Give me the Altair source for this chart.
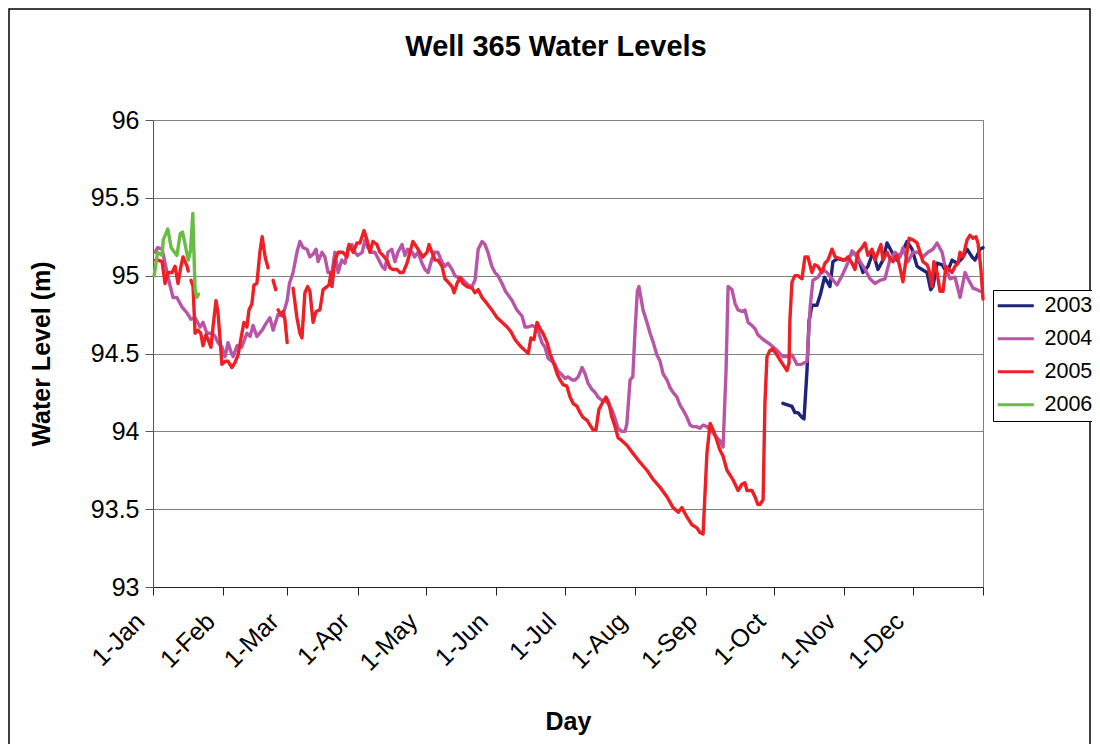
import altair as alt
import pandas as pd

FONT = "Liberation Sans"
chart_title = "Well 365 Water Levels"
x_title = "Day"
y_title = "Water Level (m)"
years = ["2003", "2004", "2005", "2006"]
year_colors = ["#1F2479", "#B955A7", "#EE2026", "#69BD45"]
month_starts = [0, 31, 59, 90, 120, 151, 181, 212, 243, 273, 304, 334, 365]
month_labels = ["1-Jan", "1-Feb", "1-Mar", "1-Apr", "1-May", "1-Jun", "1-Jul",
                "1-Aug", "1-Sep", "1-Oct", "1-Nov", "1-Dec", ""]
level_ticks = [93, 93.5, 94, 94.5, 95, 95.5, 96]

# [day of year, water level (m)]; None marks a gap in the record
levels_2003 = [
    [277, 94.18], [279, 94.17], [281, 94.16], [282.3, 94.12], [283.6, 94.12],
    [285.4, 94.09], [286.3, 94.08], [287.6, 94.39], [288.5, 94.71], [289.8, 94.81],
    [292, 94.81], [293.5, 94.88], [295.3, 94.99], [297.7, 94.93], [299, 95.09],
    [301.2, 95.11], [303.4, 95.10], [305.6, 95.11], [307.8, 95.15], [310, 95.12],
    [312.2, 95.02], [314.4, 95.06], [316.6, 95.15], [318.8, 95.04], [321, 95.10],
    [322.8, 95.21], [325, 95.15], [327.2, 95.10], [329.4, 95.15], [331.6, 95.22],
    [333.8, 95.17], [336, 95.06], [338.2, 95.04], [340.4, 95.02], [342, 94.91],
    [343, 94.93], [344.8, 95.08], [347, 95.07], [349.2, 95.02], [351.4, 95.10],
    [353.6, 95.08], [355.8, 95.11], [358, 95.17], [360.2, 95.12], [361.5, 95.10],
    [363.7, 95.17], [365, 95.18],
]

levels_2004 = [
    [1, 95.15], [2, 95.18], [4, 95.17], [5.3, 95.08], [6.6, 94.99], [8.8, 94.86],
    [10.5, 94.86], [12.7, 94.80], [15, 94.76], [16.7, 94.72], [18.5, 94.73],
    [20.7, 94.67], [22, 94.70], [23.7, 94.63], [26, 94.63], [27.3, 94.61],
    [28.6, 94.57], [30.3, 94.54], [31.7, 94.48], [33, 94.57], [34.3, 94.51],
    [35.2, 94.48], [37, 94.55], [39, 94.54], [41.3, 94.63], [42.7, 94.61],
    [44, 94.68], [45.7, 94.61], [48, 94.65], [50, 94.70], [51.4, 94.73],
    [52.8, 94.65], [55, 94.75], [57, 94.74], [59, 94.84], [60, 94.95],
    [61.6, 95.02], [63.3, 95.15], [64.6, 95.22], [66, 95.18], [67.7, 95.17],
    [69, 95.12], [70.5, 95.14], [71.7, 95.17], [72.6, 95.09], [74.3, 95.15],
    [75.6, 95.12], [77, 95.02], [78.7, 95.02], [80, 95.15], [81.4, 95.02],
    [83, 95.10], [84.4, 95.08], [85.8, 95.18], [87.5, 95.20], [88.8, 95.15],
    [90, 95.13], [92, 95.15], [93.2, 95.23], [94.5, 95.18], [96.3, 95.15],
    [97.6, 95.15], [99, 95.11], [100.7, 95.06], [102, 95.04], [103.3, 95.15],
    [105, 95.17], [106.4, 95.09], [107.7, 95.15], [109.5, 95.20], [110.8, 95.13],
    [112, 95.17], [114, 95.15], [115, 95.12], [116.5, 95.15], [118.3, 95.08],
    [119.6, 95.04], [121, 95.02], [122.7, 95.11], [124, 95.15], [125.3, 95.15],
    [127, 95.09], [128.4, 95.06], [129.7, 95.08], [131.5, 95.04], [132.8, 95.00],
    [134, 94.99], [136, 94.98], [137.2, 94.96], [138.5, 94.94], [140.3, 94.93],
    [141.6, 94.97], [143, 95.17], [144.7, 95.22], [146, 95.20], [147.3, 95.15],
    [149, 95.06], [150.4, 95.02], [151.7, 95.00], [153.5, 94.95], [155, 94.90],
    [157.9, 94.84], [160, 94.78], [162.3, 94.74], [163.6, 94.67], [165, 94.67],
    [166.7, 94.68], [168, 94.67], [169.3, 94.65], [171, 94.57], [172.4, 94.54],
    [173.7, 94.47], [175.5, 94.45], [176.8, 94.43], [178, 94.39], [180, 94.36],
    [181.2, 94.34], [182.5, 94.35], [184.3, 94.33], [185.6, 94.33], [187, 94.35],
    [188.7, 94.41], [190, 94.37], [191.3, 94.31], [193, 94.27], [194.4, 94.25],
    [195.7, 94.22], [197.4, 94.20], [198.8, 94.20], [200, 94.18], [201.8, 94.14],
    [203, 94.09], [204.5, 94.02], [206.2, 94.00], [207.6, 94.00], [208.4, 94.05],
    [209.8, 94.33], [211, 94.35], [212, 94.65], [213, 94.90], [213.7, 94.93],
    [215.5, 94.78], [217.2, 94.70], [218.6, 94.63], [220, 94.57], [221.6, 94.49],
    [223, 94.45], [224.3, 94.37], [226, 94.33], [227.4, 94.28], [228.7, 94.25],
    [230.4, 94.22], [231.7, 94.17], [233, 94.14], [234.8, 94.09], [236.2, 94.04],
    [237.5, 94.03], [239, 94.03], [240.5, 94.02], [241.9, 94.04], [243.6, 94.03],
    [245, 94.01], [246.3, 93.99], [248, 93.96], [249.3, 93.94], [250.7, 93.90],
    [252, 94.39], [252.9, 94.93], [254.6, 94.91], [256, 94.82], [257.3, 94.78],
    [259, 94.77], [260.3, 94.78], [261.7, 94.70], [263.4, 94.68], [264.7, 94.66],
    [266, 94.62], [268.3, 94.59], [271.3, 94.56], [274.4, 94.52], [277, 94.48],
    [278.8, 94.48], [281, 94.49], [283.2, 94.43], [285, 94.43], [287.6, 94.45],
    [289, 94.80], [290.2, 94.97], [292.4, 94.99], [294.6, 95.04], [296.4, 95.02],
    [298.6, 94.98], [300.8, 94.94], [303, 95.00], [305.2, 95.07], [307.4, 95.16],
    [309.6, 95.12], [311, 95.09], [313.1, 95.04], [315.3, 94.98], [317.5, 94.95],
    [319.7, 94.97], [321.9, 94.98], [324, 95.10], [326.3, 95.15], [328.5, 95.12],
    [329.8, 95.18], [332, 95.09], [334.2, 95.15], [336.4, 95.15], [338.6, 95.12],
    [340.8, 95.15], [343, 95.17], [344.8, 95.21], [347, 95.15], [348.3, 95.06],
    [350.5, 94.98], [352.7, 94.99], [354.9, 94.86], [357.1, 95.02], [358.4, 94.98],
    [360.6, 94.92], [362.4, 94.91], [363.7, 94.90],
]

levels_2005 = [
    [1, 95.10], [2.2, 95.10], [4, 95.09], [5.3, 94.95], [6.6, 95.02], [8.4, 95.02],
    [9.7, 95.06], [11, 94.95], [12.3, 95.06], [13.2, 95.12], [15, 95.06], [15.5, 95.03],
    None,
    [16.7, 94.97], [17.6, 94.93], [18.5, 94.63], [19.8, 94.65], [21, 94.63],
    [22, 94.55], [23.3, 94.62], [24.2, 94.59], [25.5, 94.54], [26.4, 94.67],
    [27.7, 94.84], [28.6, 94.76], [29.5, 94.59], [30.3, 94.43], [31.7, 94.45],
    [33, 94.45], [34.7, 94.41], [36, 94.44], [37.4, 94.49], [39.1, 94.63],
    [40, 94.70], [41.3, 94.67], [42.2, 94.78], [43.5, 94.82], [44.4, 94.94],
    [45.7, 94.95], [47, 95.15], [48, 95.25], [49.3, 95.12], [50.6, 95.05],
    None,
    [52.8, 94.97], [54, 94.91],
    None,
    [55, 94.78], [56.3, 94.75], [57.2, 94.77], [58, 94.72], [59, 94.57],
    None,
    [61.6, 94.92], [63.3, 94.73], [64.6, 94.63], [65.5, 94.60], [66.8, 94.89],
    [68, 94.93], [69, 94.90], [70.4, 94.70], [71.7, 94.77], [73.4, 94.78],
    [74.8, 94.91], [76.5, 94.93], [77.4, 94.94], [78.3, 95.02], [78.7, 94.93],
    [80, 95.10], [81.4, 95.15], [83.5, 95.15], [85.3, 95.12], [86.2, 95.20],
    [88, 95.15], [89.7, 95.21], [91, 95.21], [92.8, 95.29], [94.1, 95.23],
    [95.4, 95.15], [96.7, 95.22], [98.5, 95.20], [99.8, 95.15], [101.1, 95.13],
    [102.9, 95.10], [104.2, 95.05], [105.5, 95.04], [107.3, 95.04], [108.6, 95.02],
    [110, 95.02], [111.7, 95.08], [113, 95.15], [114.3, 95.22], [116.1, 95.18],
    [117.4, 95.15], [118.7, 95.12], [120.5, 95.15], [121.4, 95.20], [122.7, 95.15],
    [124, 95.10], [125.3, 95.10], [127.1, 95.06], [128.4, 94.98], [129.7, 94.96],
    [131.5, 94.93], [132.4, 94.89], [133.7, 94.95], [135, 94.99], [136.3, 94.95],
    [138.1, 94.93], [140.3, 94.92], [141.6, 94.89], [143, 94.91], [144.7, 94.86],
    [146.9, 94.82], [149, 94.78], [151.3, 94.73], [153.5, 94.70], [155.7, 94.67],
    [157.4, 94.64], [159.2, 94.59], [161.4, 94.55], [163.6, 94.52], [165, 94.50],
    [166.2, 94.60], [167.5, 94.59], [168.9, 94.70], [170.2, 94.66], [171.5, 94.63],
    [173.3, 94.57], [174.6, 94.50], [175.9, 94.45], [177.7, 94.37], [179, 94.33],
    [180.3, 94.30], [182, 94.29], [183.4, 94.22], [184.7, 94.18], [186.5, 94.16],
    [187.8, 94.12], [189.1, 94.09], [190.9, 94.07], [192.2, 94.04], [193.5, 94.01],
    [194.8, 94.01], [196.1, 94.14], [197.9, 94.19], [199.2, 94.22], [200.5, 94.18],
    [201.8, 94.09], [203.2, 94.03], [204.5, 93.96], [206.2, 93.94], [208.4, 93.91],
    [211, 93.86], [214.2, 93.80], [217.2, 93.75], [220, 93.69], [223, 93.64],
    [226, 93.58], [228.7, 93.51], [231, 93.48], [232.6, 93.51], [234.8, 93.45],
    [237, 93.40], [239.2, 93.38], [240.5, 93.35], [241.9, 93.34], [243.6, 93.86],
    [245, 94.05], [246.3, 94.01], [248, 93.94], [249.3, 93.88], [250.7, 93.84],
    [252.4, 93.75], [253.7, 93.72], [255, 93.69], [257.3, 93.62], [259, 93.66],
    [260.3, 93.67], [261.2, 93.62], [263.4, 93.62], [264.7, 93.58], [266, 93.53],
    [266.9, 93.53], [268.3, 93.56], [269.1, 94.18], [270, 94.48], [271.3, 94.52],
    [272.6, 94.53], [274.4, 94.49], [275.7, 94.46], [277, 94.43], [278.8, 94.39],
    [279.7, 94.44], [280.1, 94.72], [281, 94.96], [282.3, 95.00], [283.6, 95.00],
    [285.4, 94.98], [286.7, 95.12], [288, 95.12], [289.8, 95.02], [291, 95.07],
    [292.4, 95.06], [294.2, 95.02], [295.5, 95.08], [296.8, 95.10], [298.6, 95.17],
    [300, 95.12], [302.1, 95.11], [304.3, 95.10], [305.6, 95.12], [307.4, 95.08],
    [308.7, 95.04], [310, 95.15], [311.8, 95.18], [313.1, 95.21], [314.4, 95.13],
    [316.2, 95.17], [317.5, 95.10], [318.8, 95.15], [320.1, 95.20], [321, 95.10],
    [322.8, 95.15], [324.1, 95.11], [325.4, 95.09], [327.2, 95.13], [328.5, 95.05],
    [329.8, 94.96], [331.1, 95.10], [332.5, 95.24], [334.2, 95.23], [336, 95.21],
    [337.3, 95.15], [338.6, 95.09], [340.4, 95.07], [341.2, 95.04], [342.6, 94.93],
    [343.4, 95.09], [344.8, 95.02], [346.1, 94.90], [347.4, 94.90], [348.7, 95.06],
    [351.4, 95.02], [352.7, 95.06], [354, 95.08], [354.9, 95.15], [356.2, 95.12],
    [358, 95.23], [359.3, 95.26], [360.6, 95.24], [361.9, 95.25], [362.8, 95.21],
    [364.1, 95.04], [365, 94.85],
]

levels_2006 = [
    [0.5, 95.00], [2, 95.15], [4, 95.13], [4.5, 95.23], [6.5, 95.30], [8, 95.18],
    [10.5, 95.13], [12, 95.27], [13, 95.28], [14, 95.21], [15.5, 95.10],
    [16.5, 95.16], [17.5, 95.40], [18.5, 94.91], [19.3, 94.86], [20, 94.88],
]

rows = []
for year, pts in zip(years, [levels_2003, levels_2004, levels_2005, levels_2006]):
    seg = 0
    for p in pts:
        if p is None:
            seg += 1
            continue
        rows.append({"year": year, "segment": f"{year}-{seg}", "day": p[0], "level": p[1]})
df = pd.DataFrame(rows)

label_expr = "".join(f"datum.value == {d} ? '{l}' : " for d, l in zip(month_starts, month_labels)) + "''"

lines = alt.Chart(df).mark_line(strokeWidth=3.4, strokeJoin="round", strokeCap="round").encode(
    x=alt.X("day:Q",
            scale=alt.Scale(domain=[0, 365], nice=False, zero=False),
            axis=alt.Axis(values=month_starts, labelExpr=label_expr, title=x_title, grid=False,
                          labelAngle=315, labelAlign="right", labelBaseline="middle",
                          labelPadding=22, labelOffset=-13, labelOverlap=False, labelFlush=False,
                          labelBound=False, tickSize=8, domainColor="#222222", tickColor="#222222",
                          titleX=415, titleY=142, titleBaseline="alphabetic", titleAlign="center")),
    y=alt.Y("level:Q",
            scale=alt.Scale(domain=[93, 96], nice=False, zero=False),
            axis=alt.Axis(values=level_ticks, format=".1~f", title=y_title, tickSize=8,
                          labelPadding=6, domainColor="#555555", tickColor="#555555",
                          gridColor="#808080", titleAngle=270, titleX=-104, titleY=233.5,
                          titleBaseline="alphabetic", titleAlign="center")),
    color=alt.Color("year:N",
                    scale=alt.Scale(domain=years, range=year_colors),
                    legend=alt.Legend(title=None, orient="none", legendX=840, legendY=170,
                                      symbolType="M-2,0H2", symbolSize=324, symbolStrokeWidth=3,
                                      symbolOffset=7, labelOffset=18, rowPadding=10,
                                      labelFont=FONT, labelFontSize=21.5, labelColor="#000000",
                                      strokeColor="#000000", fillColor="#FFFFFF", padding=5)),
    detail="segment:N",
)

frame = alt.Chart(pd.DataFrame({"frame": [0]})).mark_rect(
    fillOpacity=0, stroke="#000000", strokeWidth=1.5
).encode(x=alt.value(-144), x2=alt.value(937), y=alt.value(-111), y2=alt.value(640))

chart = alt.layer(frame, lines).properties(
    width=830,
    height=467,
    title=alt.TitleParams(chart_title, font=FONT, fontSize=29, fontWeight="bold", color="#000000",
                          anchor="middle", frame="group", dx=-12, offset=0, dy=54),
    autosize=alt.AutoSizeParams(type="none"),
    padding={"left": 145, "top": 112, "right": 109, "bottom": 157},
).configure_view(
    stroke="#808080", strokeWidth=1
).configure_axis(
    labelFont=FONT, labelFontSize=25, labelColor="#000000",
    titleFont=FONT, titleFontSize=25, titleFontWeight="bold", titleColor="#000000",
)

chart.save("out.html", embed_options={"renderer": "svg", "actions": False})
